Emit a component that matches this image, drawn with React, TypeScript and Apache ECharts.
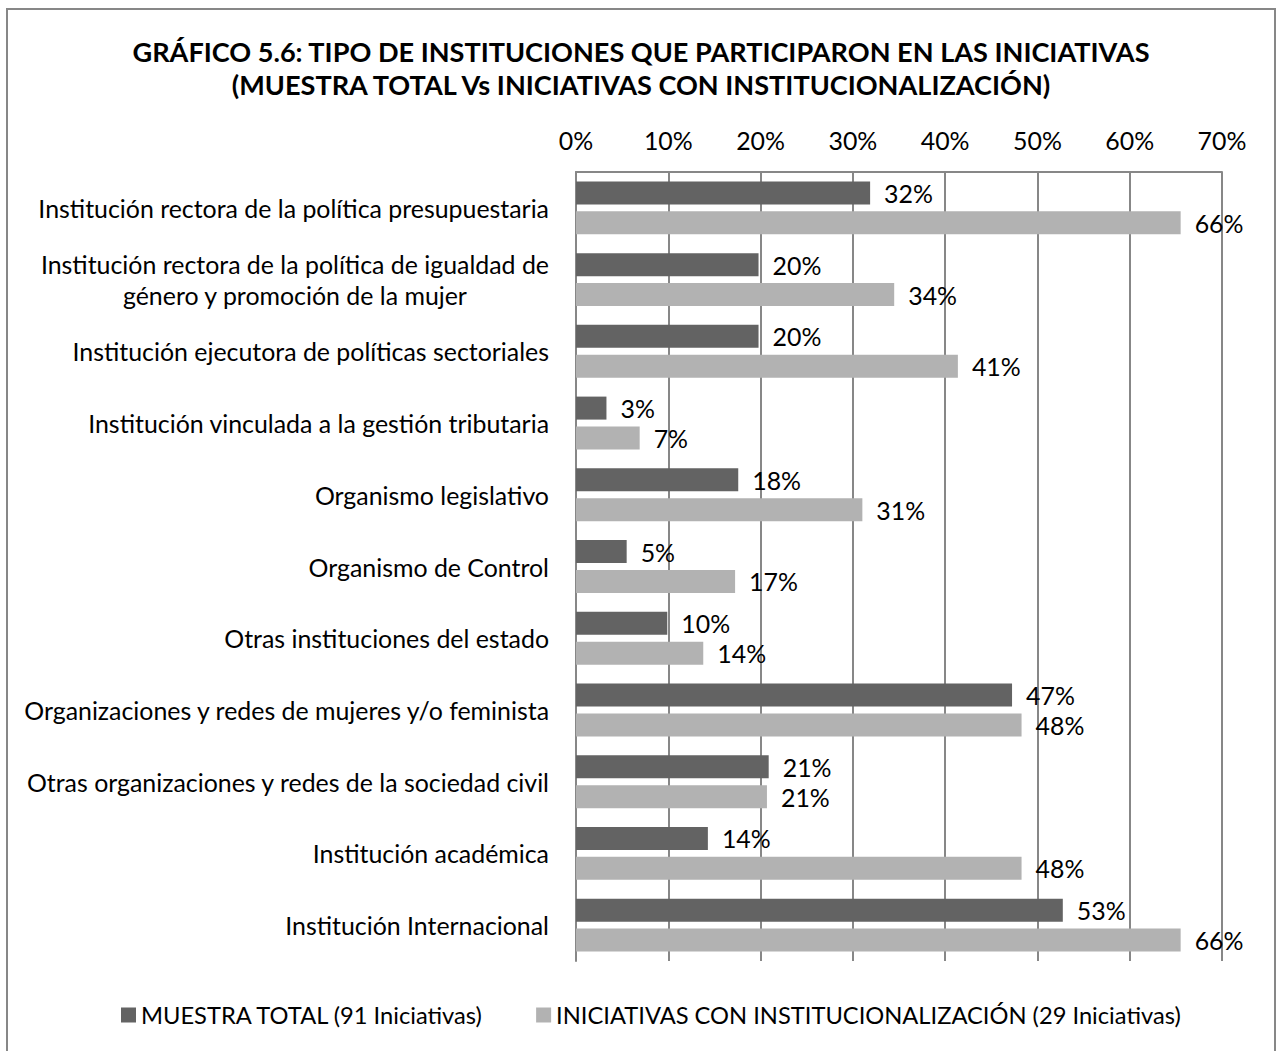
import React, { useEffect, useRef } from 'react';
import * as echarts from 'echarts';

const FONT = 'Lato, Carlito, Calibri, "Open Sans", sans-serif';

const titleLines = [
  'GRÁFICO 5.6: TIPO DE INSTITUCIONES QUE PARTICIPARON EN LAS INICIATIVAS',
  '(MUESTRA TOTAL Vs INICIATIVAS CON INSTITUCIONALIZACIÓN)',
];

const categories = [
  'Institución rectora de la política presupuestaria',
  'Institución rectora de la política de igualdad de\ngénero y promoción de la mujer',
  'Institución ejecutora de políticas sectoriales',
  'Institución vinculada a la gestión tributaria',
  'Organismo legislativo',
  'Organismo de Control',
  'Otras instituciones del estado',
  'Organizaciones y redes de mujeres y/o feminista',
  'Otras organizaciones y redes de la sociedad civil',
  'Institución académica',
  'Institución Internacional',
];

const seriesNames = [
  'MUESTRA TOTAL (91 Iniciativas)',
  'INICIATIVAS CON INSTITUCIONALIZACIÓN (29 Iniciativas)',
];

// percentages (%)
const muestraTotal = [31.87, 19.78, 19.78, 3.3, 17.58, 5.49, 9.89, 47.25, 20.88, 14.29, 52.75];
const conInstitucionalizacion = [65.52, 34.48, 41.38, 6.9, 31.03, 17.24, 13.79, 48.28, 20.69, 48.28, 65.52];

const axisMin = 0;
const axisMax = 70;
const axisInterval = 10;

const DARK = '#636363';
const LIGHT = '#b2b2b2';
const GRID = '#878787';

function fitSize(text: string, target: number, weight: string, fallback: number) {
  try {
    const ctx = document.createElement('canvas').getContext('2d');
    if (!ctx) return fallback;
    ctx.font = `${weight} 100px ${FONT}`;
    const w = ctx.measureText(text).width;
    if (!w) return fallback;
    return Math.round((1000 * target) / w) / 10;
  } catch (e) {
    return fallback;
  }
}

export default function App() {
  const ref = useRef<HTMLDivElement>(null);

  useEffect(() => {
    if (!ref.current) return;
    const chart = echarts.init(ref.current, undefined, { renderer: 'svg' });

    const base = fitSize(categories[0], 511, 'normal', 24);
    const titleSize = fitSize(titleLines[0], 1019, 'bold', 25);
    const legendSize = fitSize(seriesNames[0], 343, 'normal', 24);

    const labelStyle = { fontFamily: FONT, fontSize: base, color: '#000' };

    const option: any = {
      animation: false,
      backgroundColor: '#ffffff',
      textStyle: { fontFamily: FONT },
      title: {
        text: titleLines.join('\n'),
        left: 'center',
        top: 35,
        padding: 0,
        textStyle: {
          fontFamily: FONT,
          fontWeight: 'bold',
          fontSize: titleSize,
          lineHeight: 33,
          color: '#000',
        },
      },
      graphic: [
        {
          type: 'rect',
          silent: true,
          z: -10,
          shape: { x: 7, y: 9, width: 1268, height: 1060 },
          style: { fill: 'none', stroke: GRID, lineWidth: 2 },
        },
      ],
      grid: { left: 576, right: 60, top: 172, bottom: 90, containLabel: false },
      legend: {
        data: seriesNames,
        left: 121,
        top: 1002,
        itemWidth: 15,
        itemHeight: 15,
        itemGap: 52,
        icon: 'rect',
        padding: 0,
        textStyle: { fontFamily: FONT, fontSize: legendSize, color: '#000', lineHeight: 26 },
      },
      xAxis: {
        type: 'value',
        position: 'top',
        min: axisMin,
        max: axisMax,
        interval: axisInterval,
        axisLine: { show: true, lineStyle: { color: GRID, width: 2 } },
        axisTick: { show: false },
        splitLine: { show: true, lineStyle: { color: GRID, width: 2 } },
        axisLabel: { ...labelStyle, formatter: '{value}%', margin: 20 },
      },
      yAxis: {
        type: 'category',
        inverse: true,
        data: categories,
        axisLine: { show: true, lineStyle: { color: GRID, width: 2 } },
        axisTick: { show: false },
        splitLine: { show: false },
        axisLabel: {
          ...labelStyle,
          margin: 27,
          formatter: (v: string) => {
            if (v.indexOf('\n') < 0) return v;
            return v
              .split('\n')
              .map((l) => `{c|${l}}`)
              .join('\n');
          },
          rich: {
            c: { ...labelStyle, align: 'center', lineHeight: base * 1.22 },
          },
        },
      },
      series: [
        {
          name: seriesNames[0],
          type: 'bar',
          data: muestraTotal,
          barWidth: 23,
          barGap: '30%',
          itemStyle: { color: DARK },
          label: {
            show: true,
            position: 'right',
            distance: 14,
            ...labelStyle,
            formatter: (p: any) => `${Math.round(p.value)}%`,
          },
        },
        {
          name: seriesNames[1],
          type: 'bar',
          data: conInstitucionalizacion,
          barWidth: 23,
          barGap: '30%',
          itemStyle: { color: LIGHT },
          label: {
            show: true,
            position: 'right',
            distance: 14,
            ...labelStyle,
            formatter: (p: any) => `${Math.round(p.value)}%`,
          },
        },
      ],
    };

    chart.setOption(option);
    return () => chart.dispose();
  }, []);

  return (
    <div
      ref={ref}
      style={{ position: 'absolute', left: 0, top: 0, width: 1282, height: 1051 }}
    />
  );
}
